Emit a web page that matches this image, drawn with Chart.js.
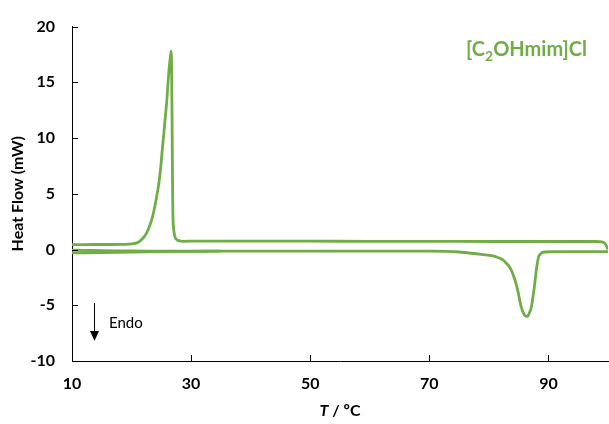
<!DOCTYPE html>
<html>
<head>
<meta charset="utf-8">
<script src="https://cdn.jsdelivr.net/npm/chart.js@4/dist/chart.umd.min.js"></script>
<style>
  html, body { margin: 0; padding: 0; background: #ffffff; }
  #wrap { width: 609px; height: 424px; }
</style>
</head>
<body>
<div id="wrap"><canvas id="c" width="609" height="424"></canvas></div>
<script>
// ---- data ----
const coolT  = [100, 99.8, 99.5, 99, 98, 95, 90, 80, 70, 60, 50, 40, 32, 30, 28.6, 28.1, 27.7, 27.3, 27.0, 26.92, 26.85, 26.78, 26.7, 26.62, 26.5, 26.3, 26.1, 25.9, 25.6, 25.4, 25.1, 24.9, 24.6, 24.2, 23.8, 23.4, 22.8, 22.2, 21.5, 20.9, 20, 19, 17, 14, 10];
const coolHF = [0.0, 0.25, 0.55, 0.68, 0.72, 0.72, 0.72, 0.72, 0.73, 0.74, 0.75, 0.76, 0.76, 0.75, 0.74, 0.77, 0.85, 1.1, 2.2, 4, 8, 13, 17.2, 17.8, 17.2, 16.2, 14.8, 13.2, 11.5, 10.3, 8.6, 7.4, 6.0, 4.7, 3.6, 2.7, 1.8, 1.2, 0.8, 0.6, 0.5, 0.47, 0.45, 0.45, 0.44];

const heatT  = [10, 12, 15, 20, 25, 30, 40, 50, 60, 70, 75, 78.4, 80.7, 82.3, 83.5, 84.3, 84.9, 85.4, 86.0, 86.5, 87.1, 87.6, 88.0, 88.4, 89.0, 90.2, 95, 100];
const heatHF = [-0.05, -0.07, -0.1, -0.13, -0.15, -0.15, -0.15, -0.14, -0.14, -0.15, -0.22, -0.41, -0.56, -0.91, -1.58, -2.6, -3.8, -5.1, -5.9, -6.0, -5.25, -3.5, -1.7, -0.56, -0.26, -0.2, -0.18, -0.18];

const initT  = [10, 15, 20, 25, 30, 35];
const initHF = [-0.3, -0.28, -0.24, -0.19, -0.16, -0.15];

const xTicks = [10, 30, 50, 70, 90];
const yTicks = [-10, -5, 0, 5, 10, 15, 20];

const GREEN = '#70AD47';
const FONT = 'Lato, "Open Sans", "DejaVu Sans", sans-serif';

function pts(xs, ys) { return xs.map((x, i) => ({ x: x, y: ys[i] })); }

const ds = (label, data) => ({
  label: label,
  data: data,
  borderColor: GREEN,
  borderWidth: 2.8,
  pointRadius: 0,
  fill: false,
  tension: 0.15
});

const decor = {
  id: 'decor',
  afterDraw(chart) {
    const ctx = chart.ctx;
    const xs = chart.scales.x, ys = chart.scales.y;
    const a = chart.chartArea;
    ctx.save();
    // inner tick marks
    ctx.strokeStyle = '#000';
    ctx.lineWidth = 1;
    ctx.beginPath();
    xTicks.forEach(v => {
      const px = Math.round(xs.getPixelForValue(v)) + 0.5;
      ctx.moveTo(px, a.bottom); ctx.lineTo(px, a.bottom - 6);
    });
    yTicks.forEach(v => {
      const py = Math.round(ys.getPixelForValue(v)) + 0.5;
      ctx.moveTo(a.left, py); ctx.lineTo(a.left + 6, py);
    });
    ctx.stroke();

    // y title
    ctx.fillStyle = '#000';
    ctx.font = 'bold 16px ' + FONT;
    ctx.textAlign = 'center';
    ctx.textBaseline = 'middle';
    ctx.save();
    ctx.translate(18, (a.top + a.bottom) / 2);
    ctx.rotate(-Math.PI / 2);
    ctx.fillText('Heat Flow (mW)', 0, 0);
    ctx.restore();

    // x title: italic T + " / ºC"
    const cx = (a.left + a.right) / 2, cy = 411;
    ctx.textAlign = 'left';
    const f1 = 'italic bold 16px ' + FONT, f2 = 'bold 16px ' + FONT;
    ctx.font = f1; const w1 = ctx.measureText('T').width;
    ctx.font = f2; const w2 = ctx.measureText(' / ºC').width;
    let sx = cx - (w1 + w2) / 2;
    ctx.font = f1; ctx.fillText('T', sx, cy);
    ctx.font = f2; ctx.fillText(' / ºC', sx + w1, cy);

    // compound label
    ctx.fillStyle = GREEN;
    ctx.textBaseline = 'alphabetic';
    let lx = 466; const by = 56;
    ctx.font = 'bold 20px ' + FONT;
    ctx.fillText('[C', lx, by); lx += ctx.measureText('[C').width;
    ctx.font = 'bold 14px ' + FONT;
    ctx.fillText('2', lx, by + 5); lx += ctx.measureText('2').width;
    ctx.font = 'bold 20px ' + FONT;
    ctx.fillText('OHmim]Cl', lx, by);

    // Endo arrow
    ctx.strokeStyle = '#000';
    ctx.fillStyle = '#000';
    ctx.lineWidth = 1;
    ctx.beginPath();
    ctx.moveTo(94.5, 303); ctx.lineTo(94.5, 332);
    ctx.stroke();
    ctx.beginPath();
    ctx.moveTo(90, 331); ctx.lineTo(99, 331); ctx.lineTo(94.5, 341); ctx.closePath();
    ctx.fill();
    ctx.font = '15px ' + FONT;
    ctx.textBaseline = 'middle';
    ctx.fillText('Endo', 109, 323);
    ctx.restore();
  }
};

new Chart(document.getElementById('c'), {
  type: 'line',
  data: {
    datasets: [
      ds('cooling', pts(coolT, coolHF)),
      ds('heating', pts(heatT, heatHF)),
      ds('start', pts(initT, initHF))
    ]
  },
  options: {
    responsive: false,
    animation: false,
    devicePixelRatio: 1,
    layout: { padding: { top: 20, right: 1, left: 0, bottom: 0 } },
    plugins: { legend: { display: false }, tooltip: { enabled: false } },
    scales: {
      x: {
        type: 'linear',
        min: 10, max: 100,
        grid: { display: false, drawTicks: false },
        border: { display: true, color: '#000', width: 1 },
        ticks: { padding: 13, color: '#000', font: { family: FONT, size: 16, weight: 'bold' } },
        afterBuildTicks: s => { s.ticks = xTicks.map(v => ({ value: v })); },
        afterFit: s => { s.height = 63; }
      },
      y: {
        type: 'linear',
        min: -10, max: 20,
        grid: { display: false, drawTicks: false },
        border: { display: true, color: '#000', width: 1 },
        ticks: { padding: 17, color: '#000', font: { family: FONT, size: 16, weight: 'bold' } },
        afterBuildTicks: s => { s.ticks = yTicks.map(v => ({ value: v })); },
        afterFit: s => { s.width = 72; }
      }
    }
  },
  plugins: [decor]
});
</script>
</body>
</html>
